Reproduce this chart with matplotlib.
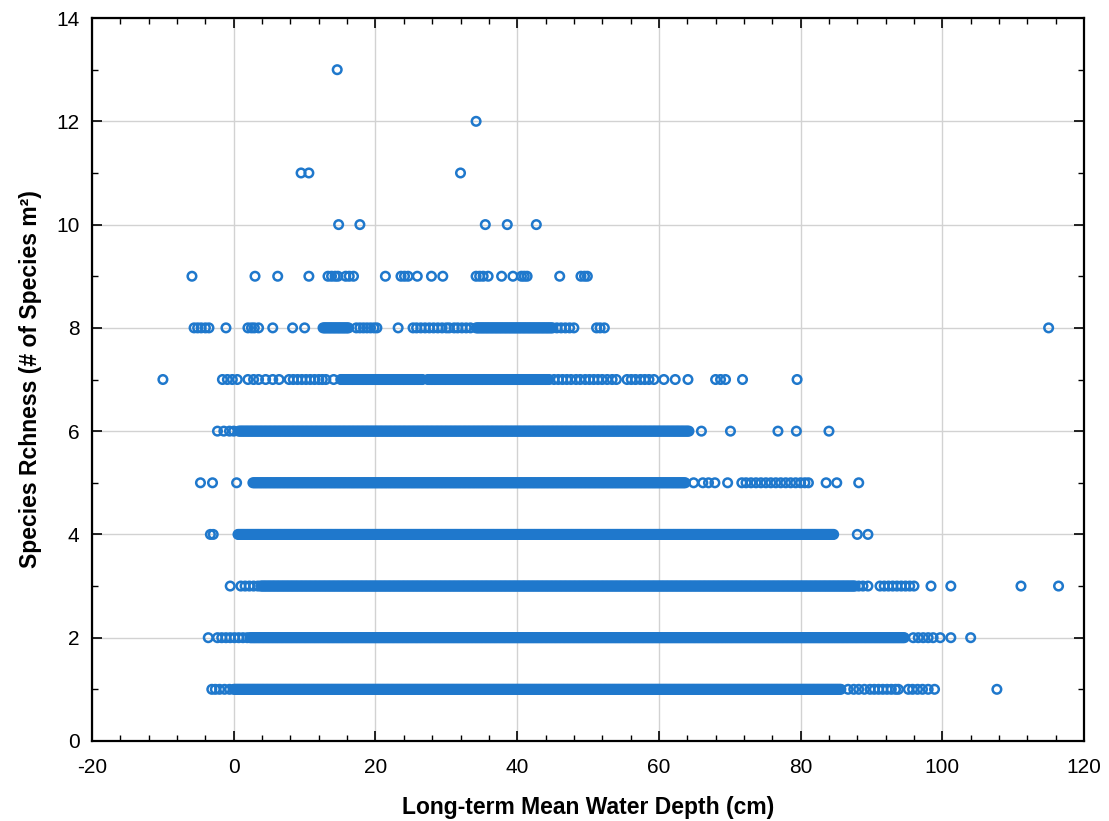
import numpy as np
import matplotlib
matplotlib.use("Agg")
import matplotlib.pyplot as plt
from matplotlib.ticker import MultipleLocator

plt.rcParams['font.family'] = ['Liberation Sans', 'DejaVu Sans']
plt.rcParams['axes.unicode_minus'] = False

# ---------------- data ----------------
# isolated / sparse points per species-richness level (x = water depth, cm)
sparse_points = {
    13: [14.6],
    12: [34.2],
    11: [9.5, 10.6, 32.0],
    10: [14.8, 17.8, 35.5, 38.6, 42.7],
    9: [-5.9, 3.0, 6.2, 10.6, 13.3, 13.8, 14.3, 14.7, 15.8, 16.3, 16.9,
        21.4, 23.6, 24.1, 24.6, 25.9, 27.9, 29.5, 34.2, 34.7, 35.2, 35.9,
        37.8, 39.4, 40.6, 41.0, 41.4, 46.0, 49.0, 49.5, 49.9],
    8: [-5.6, -5.1, -4.6, -4.0, -3.5, -1.1, 2.0, 2.5, 2.9, 3.5, 5.5, 8.3,
        10.0, 17.3, 17.8, 18.3, 18.8, 19.3, 19.8, 20.2, 23.2, 25.3, 25.8,
        26.4, 27.0, 27.6, 28.2, 28.8, 29.4, 30.0, 30.4, 31.1, 31.6, 32.2,
        32.8, 33.4, 45.6, 46.2, 46.8, 47.4, 48.0, 51.2, 51.7, 52.3, 115.0],
    7: [-10.0, -1.6, -0.9, -0.2, 0.5, 2.0, 2.8, 3.5, 4.5, 5.5, 6.4,
        7.8, 8.4, 9.0, 9.6, 10.2, 10.8, 11.4, 12.0, 12.5, 13.0, 14.1,
        45.2, 45.8, 46.4, 47.0, 47.6, 48.3, 48.9, 49.6, 50.2, 50.8, 51.4,
        52.0, 52.7, 53.4, 54.0, 55.5, 56.1, 56.7, 57.4, 58.0, 58.6, 59.3,
        60.7, 62.3, 64.1, 68.0, 68.7, 69.4, 71.8, 79.5],
    6: [-2.3, -1.4, -0.6, 0.0, 66.0, 70.1, 76.8, 79.4, 84.0],
    5: [-4.7, -3.0, 0.4, 64.9, 66.2, 67.0, 67.9, 69.7,
        71.7, 72.3, 73.0, 73.7, 74.4, 75.1, 75.8, 76.5, 77.2, 77.9, 78.6,
        79.3, 80.0, 80.6, 81.1, 83.6, 85.1, 88.2],
    4: [-3.3, -2.9, 88.0, 89.5],
    3: [-0.5, 1.0, 1.6, 2.2, 2.8, 3.4, 88.2, 88.8, 89.5, 91.2, 91.8, 92.4,
        93.0, 93.6, 94.2, 94.8, 95.4, 96.0, 98.4, 101.2, 111.1, 116.4],
    2: [-3.6, -2.3, -1.7, -1.1, -0.5, 0.1, 0.7, 1.3, 1.9, 95.9, 96.6,
        97.3, 98.0, 98.7, 99.7, 101.2, 104.0],
    1: [-3.1, -2.6, -2.0, -1.3, -0.6, 86.7, 87.5, 88.2, 89.0, 89.8, 90.4,
        91.0, 91.6, 92.2, 92.8, 93.4, 93.8, 95.2, 95.8, 96.5, 97.2, 98.0,
        98.9, 107.7],
}

# stretches where overlapping points form a continuous band: (richness, from, to)
dense_runs = [
    (8, 12.6, 16.3), (8, 34.2, 45.0),
    (7, 15.1, 26.7), (7, 27.4, 44.6),
    (6, 0.7, 64.4),
    (5, 2.7, 63.8),
    (4, 0.6, 84.7),
    (3, 3.8, 87.7),
    (2, 2.3, 94.7),
    (1, 0.0, 85.8),
]
run_step = 0.18  # sampling of the overlapping points inside a band

x_vals, y_vals = [], []
for lvl, xs in sparse_points.items():
    x_vals += xs
    y_vals += [lvl] * len(xs)
for lvl, a, b in dense_runs:
    xs = np.arange(a, b + 1e-9, run_step)
    x_vals += list(xs)
    y_vals += [lvl] * len(xs)

# ---------------- figure ----------------
fig = plt.figure(figsize=(11.09, 8.21), dpi=100)
ax = fig.add_axes([0.083, 0.0975, 0.8945, 0.8805])

color = '#1f78cc'
ax.scatter(x_vals, y_vals, s=38, facecolors='none', edgecolors=color,
           linewidths=1.8, zorder=3)

ax.set_xlim(-20, 120)
ax.set_ylim(0, 14)
ax.xaxis.set_major_locator(MultipleLocator(20))
ax.xaxis.set_minor_locator(MultipleLocator(4))
ax.yaxis.set_major_locator(MultipleLocator(2))
ax.yaxis.set_minor_locator(MultipleLocator(1))

ax.grid(True, which='major', color='#d2d2d2', linewidth=1.0, zorder=0)
ax.set_axisbelow(True)

ax.tick_params(which='both', direction='in', top=True, right=True,
               labelsize=15, colors='black')
ax.tick_params(axis='x', which='major', pad=12)
ax.tick_params(axis='y', which='major', pad=9)
ax.tick_params(which='major', length=7, width=1.2)
ax.tick_params(which='minor', length=4, width=1.0)
for sp in ax.spines.values():
    sp.set_linewidth(1.6)
    sp.set_color('black')

ax.set_xlabel('Long-term Mean Water Depth (cm)', fontsize=16.5,
              fontweight='bold', labelpad=14)
ax.set_ylabel('Species Rchness (# of Species m²)', fontsize=16.5,
              fontweight='bold', labelpad=10)

fig.savefig('out.png', dpi=100)
